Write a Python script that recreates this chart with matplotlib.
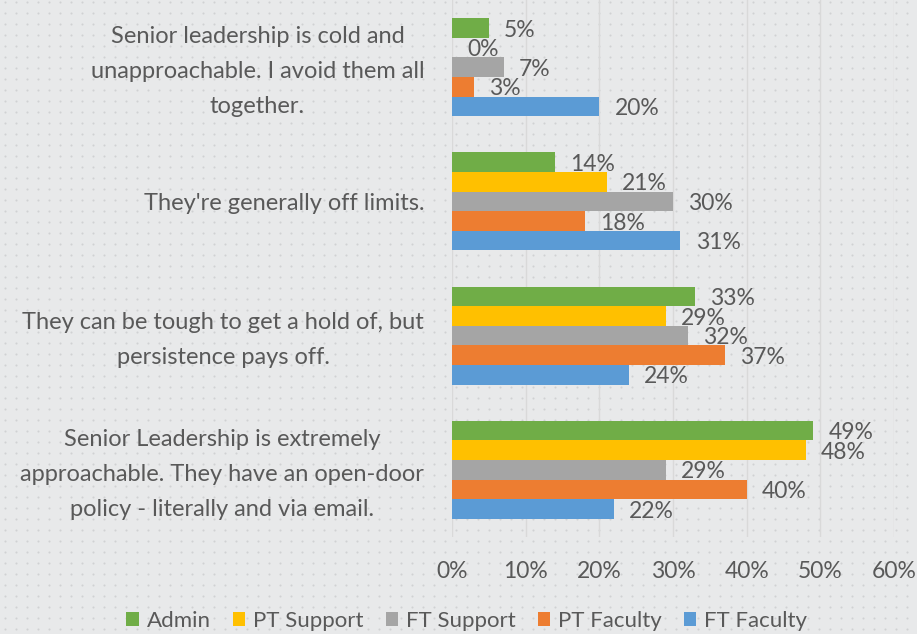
import numpy as np
import matplotlib
matplotlib.use("Agg")
import matplotlib.pyplot as plt
from matplotlib.patches import Patch
from matplotlib.transforms import ScaledTranslation

categories = [
    "Senior Leadership is extremely\napproachable. They have an open-door\npolicy - literally and via email.",
    "They can be tough to get a hold of, but\npersistence pays off.",
    "They're generally off limits.",
    "Senior leadership is cold and\nunapproachable. I avoid them all\ntogether.",
]
series_names = ["FT Faculty", "PT Faculty", "FT Support", "PT Support", "Admin"]
ft_faculty = [22, 24, 31, 20]
pt_faculty = [40, 37, 18, 3]
ft_support = [29, 32, 30, 7]
pt_support = [48, 29, 21, 0]
admin = [49, 33, 14, 5]
series_values = [ft_faculty, pt_faculty, ft_support, pt_support, admin]
colors = ["#5b9bd5", "#ed7d31", "#a5a5a5", "#ffc000", "#70ad47"]
xticks = [0, 10, 20, 30, 40, 50, 60]
xtick_labels = ["0%", "10%", "20%", "30%", "40%", "50%", "60%"]

plt.rcParams["font.family"] = ["Lato", "DejaVu Sans"]
text_color = "#595959"
bg_color = "#e8e9ea"

W, H = 917, 634
fig = plt.figure(figsize=(W / 100, H / 100), dpi=100, facecolor=bg_color)

# dotted background texture
bg = fig.add_axes([0, 0, 1, 1], zorder=-5)
bg.set_xlim(0, W)
bg.set_ylim(0, H)
bg.axis("off")
gx, gy = np.meshgrid(np.arange(5, W, 11), np.arange(5, H, 11))
bg.scatter(gx.ravel(), gy.ravel(), s=2.2, c="#d0d1d3", marker="o", linewidths=0)

ax = fig.add_axes([452 / W, 1 - 537 / H, (894 - 452) / W, 537 / H])
ax.set_facecolor("none")

n = len(series_names)
bh = 0.146
y = np.arange(len(categories))
for i, (name, vals, col) in enumerate(zip(series_names, series_values, colors)):
    pos = y + (i - (n - 1) / 2) * bh
    bars = ax.barh(pos, vals, height=bh, color=col, label=name, zorder=3)
    for b, v in zip(bars, vals):
        ax.annotate(f"{v}%", (b.get_width(), b.get_y() + b.get_height() / 2),
                    xytext=(11, -1.5), textcoords="offset points",
                    ha="left", va="center", fontsize=16.5, color=text_color, zorder=4)

ax.set_xlim(0, 60)
ax.set_ylim(-0.5, len(categories) - 0.5)
ax.set_xticks(xticks)
ax.set_xticklabels(xtick_labels, fontsize=16.5, color=text_color)
ax.set_yticks(y)
ax.set_yticklabels(categories, fontsize=17, color=text_color,
                   multialignment="center", linespacing=1.82)
ax.tick_params(axis="both", length=0)
ax.tick_params(axis="x", pad=17)
ax.tick_params(axis="y", pad=20)
ax.grid(axis="x", color="#d9d9d9", linewidth=1, zorder=0)
for s in ax.spines.values():
    s.set_visible(False)

for lab in ax.get_yticklabels():
    if "\n" in lab.get_text():
        lab.set_transform(lab.get_transform() +
                          ScaledTranslation(0, 4.5 / 100, fig.dpi_scale_trans))

handles = [Patch(facecolor=c, edgecolor="none") for c in colors[::-1]]
labels = series_names[::-1]
fig.legend(handles, labels, loc="center", bbox_to_anchor=(467 / W, 1 - 621 / H),
           ncol=5, frameon=False, fontsize=16, labelcolor=text_color,
           handlelength=0.55, handleheight=0.55, handletextpad=0.36,
           columnspacing=1.0, borderaxespad=0)

fig.savefig("out.png", dpi=100, facecolor=bg_color)
